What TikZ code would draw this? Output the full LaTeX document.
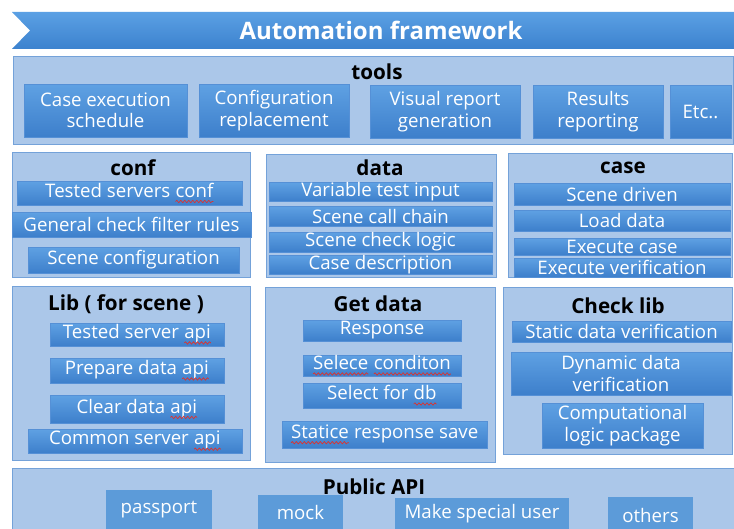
\documentclass[tikz,border=0pt]{standalone}
\usepackage{fontspec}
\setmainfont{Open Sans}
\usetikzlibrary{decorations.pathmorphing}
\definecolor{bnTop}{HTML}{5BA0E4}
\definecolor{bnBot}{HTML}{3C82CE}
\definecolor{grpFill}{HTML}{ABC7E9}
\definecolor{grpBorder}{HTML}{74A2D9}
\definecolor{itTop}{HTML}{5FA1E3}
\definecolor{itBot}{HTML}{3D7FCB}
\definecolor{itBorder}{HTML}{5590D6}
\definecolor{pubFill}{HTML}{5C9BD9}
\definecolor{waveRed}{HTML}{E0302A}
\tikzset{
  grp/.style={draw=grpBorder, line width=1pt, fill=grpFill, inner sep=0pt, anchor=north west},
  itembox/.style={top color=itTop, bottom color=itBot, draw=itBorder, line width=0.4pt,
    text=white, inner sep=0pt, align=center, font=\fontsize{14}{16}\selectfont},
  pubitem/.style={fill=pubFill, draw=none, text=white, inner sep=0pt, align=center,
    font=\fontsize{14}{16}\selectfont},
  ttl/.style={font=\fontsize{15.5}{18}\selectfont\bfseries, text=black, inner sep=0pt},
  bannertext/.style={font=\fontsize{18}{20}\selectfont\bfseries, text=white, inner sep=0pt},
  wavy/.style={draw=waveRed, line width=0.5pt, decorate,
    decoration={snake, amplitude=0.9pt, segment length=3pt}},
}
\newcommand\redwave[1]{\tikz[baseline=(w.base)]{\node[inner sep=0pt, outer sep=0pt, minimum width=0pt, minimum height=0pt] (w) {#1};
  \path[wavy] ([yshift=-3.2pt]w.base west) -- ([yshift=-3.2pt]w.base east);}}
\newcommand\grpbox[5]{\node[grp, minimum width={(#4-#2)*0.75pt}, minimum height={(#5-#3)*0.75pt}] (#1) at (#2,#3) {};}
\newcommand\itm[7][itembox]{\node[#1, minimum width={(#5-#3)*0.75pt}, minimum height={(#6-#4)*0.75pt}] (#2) at ({(#3+#5)/2},{(#4+#6)/2}) {#7};}
\begin{document}
\begin{tikzpicture}[x=0.75pt,y=-0.75pt]
\useasboundingbox (0,0) rectangle (734,528);
\clip (0,0) rectangle (734,528);
\fill[white] (0,0) rectangle (734,528);
% banner
\shade[top color=bnTop, bottom color=bnBot] (12,12) -- (734,12) -- (734,49) -- (12,49) -- (30,30.5) -- cycle;
\node[bannertext] (banner) at (381,30.5) {Automation framework};
% tools
\grpbox{tools}{13}{56}{733}{144}
\node[ttl] (toolsT) at (377,72) {tools};
\itm{t1}{24}{84}{187}{137}{Case execution\\schedule}
\itm{t2}{199}{84}{349}{137}{Configuration\\replacement}
\itm{t3}{370}{85}{520}{138}{Visual report\\generation}
\itm{t4}{533}{85}{663}{138}{Results\\reporting}
\itm{t5}{670}{85}{731}{138}{Etc..}
% conf
\grpbox{conf}{12}{152}{250}{277}
\node[ttl] (confT) at (133,168) {conf};
\itm{c1}{17}{181}{242}{205}{Tested servers \redwave{conf}}
\itm{c2}{12}{212}{251}{237}{General check filter rules}
\itm{c3}{28}{247}{239}{273}{Scene configuration}
% data
\grpbox{data}{266}{154}{496}{277}
\node[ttl] (dataT) at (380,168) {data};
\itm{d1}{269}{184}{492}{200}{Variable test input}
\itm{d2}{269}{206}{492}{226}{Scene call chain}
\itm{d3}{269}{232}{492}{252}{Scene check logic}
\itm{d4}{269}{256}{492}{273}{Case description}
% case
\grpbox{case}{508}{153}{732}{277}
\node[ttl] (caseT) at (623,168) {case};
\itm{k1}{514}{183}{730}{205}{Scene driven}
\itm{k2}{514}{210}{730}{231}{Load data}
\itm{k3}{514}{238}{730}{255}{Execute case}
\itm{k4}{514}{258}{730}{277}{Execute verification}
% lib
\grpbox{lib}{12}{286}{250}{460}
\node[ttl] (libT) at (126,304) {Lib ( for scene )};
\itm{l1}{50}{323}{224}{346}{Tested server \redwave{api}}
\itm{l2}{50}{358}{224}{383}{Prepare data \redwave{api}}
\itm{l3}{50}{395}{224}{423}{Clear data \redwave{api}}
\itm{l4}{28}{429}{242}{453}{Common server \redwave{api}}
% get data
\grpbox{getdata}{265}{287}{495}{462}
\node[ttl] (getT) at (378,304) {Get data};
\itm{g1}{303}{320}{461}{341}{Response}
\itm{g2}{303}{355}{461}{376}{\redwave{Selece} \redwave{conditon}}
\itm{g3}{303}{383}{461}{408}{Select for \redwave{db}}
\itm{g4}{282}{421}{487}{448}{\redwave{Statice} response save}
% check lib
\grpbox{checklib}{503}{287}{732}{454}
\node[ttl] (checkT) at (618,306) {Check lib};
\itm{h1}{512}{321}{731}{342}{Static data verification}
\itm{h2}{511}{352}{731}{395}{Dynamic data\\verification}
\itm{h3}{542}{403}{703}{448}{Computational\\logic package}
% public api
\grpbox{public}{12}{468}{740}{545}
\node[ttl] (pubT) at (374,487) {Public API};
\itm[pubitem]{p1}{106}{490}{212}{530}{passport}
\itm[pubitem]{p2}{258}{495}{343}{530}{mock}
\itm[pubitem]{p3}{395}{498}{569}{530}{Make special user}
\itm[pubitem]{p4}{608}{497}{693}{533}{others}
\end{tikzpicture}
\end{document}
